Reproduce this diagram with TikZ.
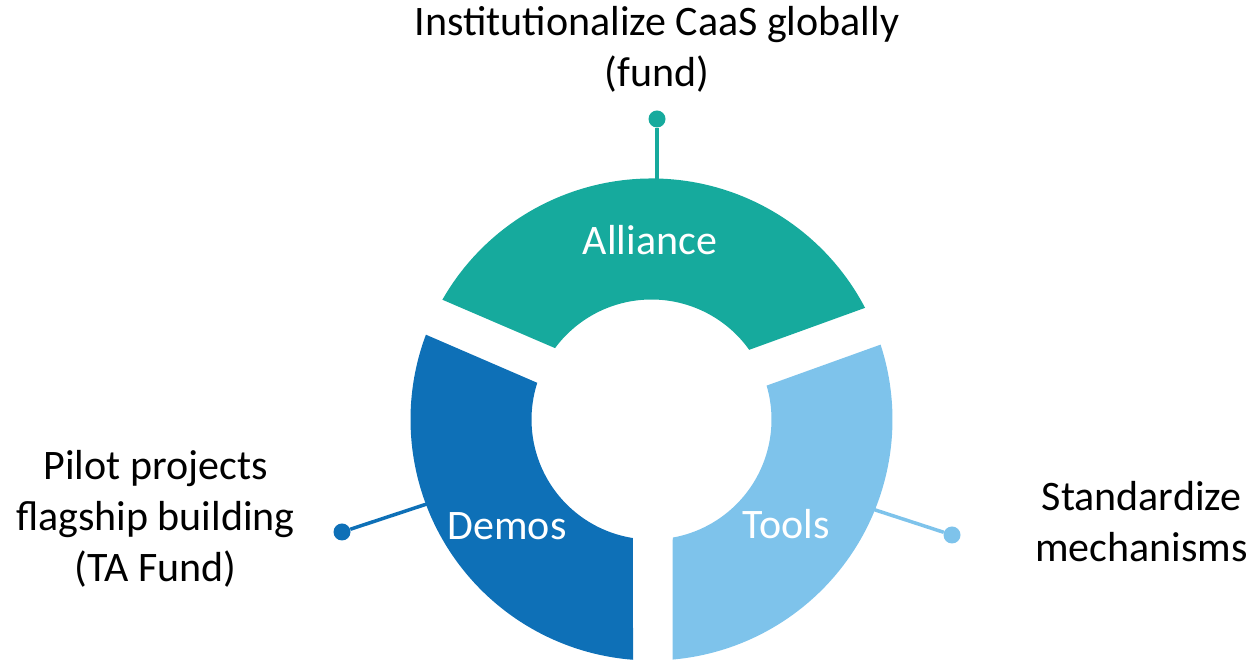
\documentclass[tikz,border=0pt]{standalone}
\usepackage{fontspec}
\setmainfont{Carlito}
\usepackage{tikz}
\usetikzlibrary{calc}

\definecolor{allianceteal}{RGB}{22,170,157}
\definecolor{demosblue}{RGB}{14,112,183}
\definecolor{toolsblue}{RGB}{126,195,235}

\begin{document}
\begin{tikzpicture}[x=1pt, y=1pt, font=\fontsize{42}{51}\selectfont,
	caption/.style={align=center, text=black, inner sep=0pt, anchor=base},
	seglabel/.style={text=white, inner sep=0pt, anchor=base},
	pindot/.style={circle, fill=#1, minimum size=17pt, inner sep=0pt},
	pinline/.style={draw=#1, line width=3.5pt}]
	\useasboundingbox (0,0) rectangle (1251,663);
	\coordinate (centre) at (651.5,243.5);
	% connectors, drawn first so the ring covers their ends
	\node[pindot=allianceteal] (alliancedot) at (657,544) {};
	\coordinate (allianceend) at (657,470);
	\draw[pinline=allianceteal] (alliancedot) -- (allianceend);
	\node[pindot=demosblue] (demosdot) at (342,131) {};
	\coordinate (demosend) at (445,165);
	\draw[pinline=demosblue] (demosdot) -- (demosend);
	\node[pindot=toolsblue] (toolsdot) at (952,128) {};
	\coordinate (toolsend) at (860,158);
	\draw[pinline=toolsblue] (toolsdot) -- (toolsend);
	% ring segments
	\fill[allianceteal] ($(centre)+(150.2:241)$) arc[start angle=150.2, end angle=27.6, radius=241]
		-- ($(centre)+(35.5:120)$) arc[start angle=35.5, end angle=143.5, radius=120] -- cycle;
	\fill[demosblue] ($(centre)+(159.4:241)$) arc[start angle=159.4, end angle=265.6, radius=241]
		-- ($(centre)+(261.1:120)$) arc[start angle=261.1, end angle=162.2, radius=120] -- cycle;
	\fill[toolsblue] ($(centre)+(275:241)$) arc[start angle=275, end angle=378.1, radius=241]
		-- ($(centre)+(376.4:120)$) arc[start angle=376.4, end angle=280.2, radius=120] -- cycle;
	% labels
	\node[seglabel] (alliance) at (650,408) {Alliance};
	\node[seglabel] (demos) at (507,123) {Demos};
	\node[seglabel] (tools) at (786,124.5) {Tools};
	\node[caption] (alliancetext) at (657,576) {Institutionalize CaaS globally\\(fund)};
	\node[caption] (demostext) at (155.5,81) {Pilot projects\\flagship building\\(TA Fund)};
	\node[caption] (toolstext) at (1141.5,101) {Standardize\\mechanisms};
\end{tikzpicture}
\end{document}
